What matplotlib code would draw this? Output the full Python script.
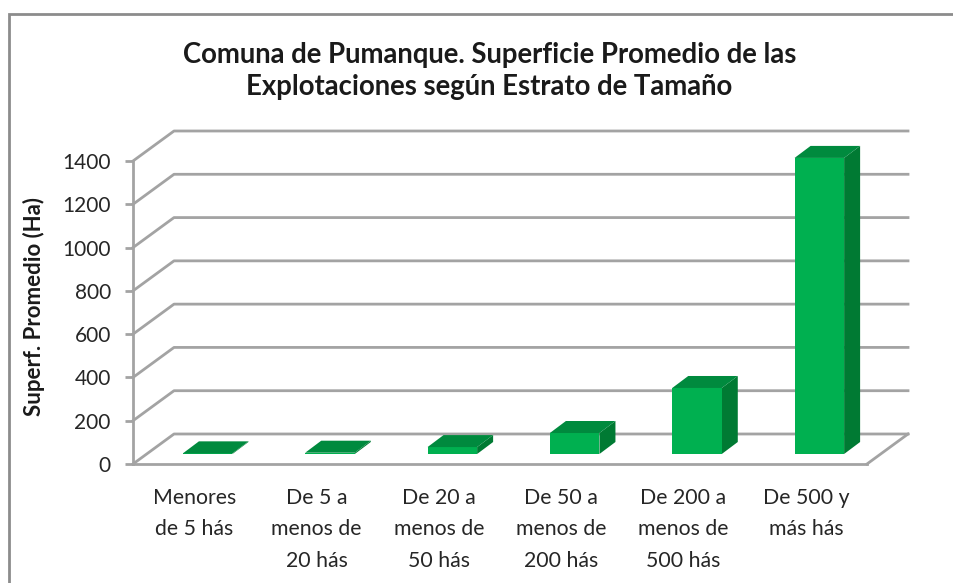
import matplotlib
matplotlib.use("Agg")
import matplotlib.pyplot as plt
from matplotlib.patches import Polygon, Rectangle

plt.rcParams["font.family"] = ["Lato", "DejaVu Sans"]

# Data
categories = ["Menores\nde 5 hás", "De 5 a\nmenos de\n20 hás", "De 20 a\nmenos de\n50 hás",
              "De 50 a\nmenos de\n200 hás", "De 200 a\nmenos de\n500 hás", "De 500 y\nmás hás"]
superficie = [3, 6, 32, 97, 305, 1368]
y_ticks = [0, 200, 400, 600, 800, 1000, 1200, 1400]

W, H = 954, 583
GREY = "#a3a3a3"
FRONT = "#00b050"
TOP = "#008a3e"
SIDE = "#007a33"

# Fake 3D depth, in data units
wall_dx, wall_dy = 41 / 122.3, 30 / 0.2164
base_dx, base_dy = 13.5 / 122.3, 10 / 0.2164
bar_dx, bar_dy = 16 / 122.3, 12 / 0.2164
bar_w = 0.405

fig = plt.figure(figsize=(W / 100, H / 100), dpi=100)
ax = fig.add_axes([133 / W, 1 - 464 / H, 734 / W, 303 / H])
ax.set_xlim(-0.5, 5.5)
ax.set_ylim(0, 1400)
ax.patch.set_alpha(0)

# Chart frame
fig.add_artist(Rectangle((9.5 / W, -0.05), 1.1, 1 - 13.5 / H + 0.05, transform=fig.transFigure,
                         fill=False, ec="#8c8c8c", lw=2))

# Back wall gridlines and their diagonals
for t in y_ticks:
    ax.plot([-0.5, -0.5 + wall_dx, 5.5 + wall_dx], [t, t + wall_dy, t + wall_dy],
            color=GREY, lw=2, clip_on=False, zorder=1)
# Floor right edge
ax.plot([5.5, 5.5 + wall_dx], [0, wall_dy], color=GREY, lw=2, clip_on=False, zorder=1)

# Bars
for i, v in enumerate(superficie):
    x0 = i - bar_w / 2 + base_dx
    x1 = i + bar_w / 2 + base_dx
    y0 = base_dy
    y1 = base_dy + v
    ax.add_patch(Polygon([(x1, y0), (x1 + bar_dx, y0 + bar_dy), (x1 + bar_dx, y1 + bar_dy), (x1, y1)],
                         fc=SIDE, ec="none", clip_on=False, zorder=3))
    ax.add_patch(Polygon([(x0, y0), (x1, y0), (x1, y1), (x0, y1)],
                         fc=FRONT, ec="none", clip_on=False, zorder=3))
    ax.add_patch(Polygon([(x0, y1), (x1, y1), (x1 + bar_dx, y1 + bar_dy), (x0 + bar_dx, y1 + bar_dy)],
                         fc=TOP, ec="none", clip_on=False, zorder=3))

for s in ["top", "right"]:
    ax.spines[s].set_visible(False)
for s in ["left", "bottom"]:
    ax.spines[s].set_color(GREY)
    ax.spines[s].set_linewidth(2)

ax.set_yticks(y_ticks)
ax.set_xticks(range(len(categories)))
ax.set_xticklabels(categories, fontsize=15.3, color="#262626", linespacing=1.73)
ax.tick_params(axis="x", length=0, pad=17)
ax.tick_params(axis="y", length=6, width=2, color=GREY, labelsize=15, labelcolor="#262626", pad=10)

fig.text(34 / W, 1 - 307 / H, "Superf. Promedio (Ha)", rotation=90, ha="center", va="center",
         fontsize=16, fontweight="bold", color="#1a1a1a")
fig.text(489.5 / W, 1 - 71 / H, "Comuna de Pumanque. Superficie Promedio de las\nExplotaciones según Estrato de Tamaño",
         ha="center", va="center", fontsize=19.8, fontweight="bold", color="#1a1a1a", linespacing=1.25)

fig.savefig("out.png", dpi=100)
